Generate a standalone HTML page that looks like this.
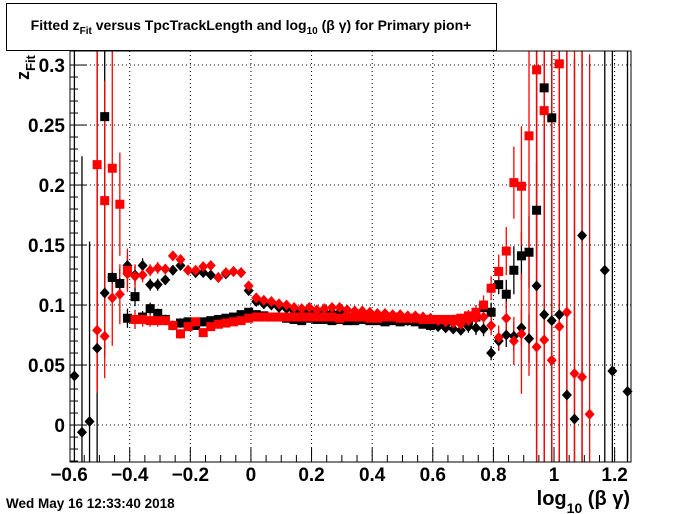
<!DOCTYPE html>
<html><head><meta charset="utf-8"><style>
html,body{margin:0;padding:0;background:#fff;}
svg{display:block;font-family:"Liberation Sans",sans-serif;}
</style></head><body>
<svg id="chart" width="700" height="514" viewBox="0 0 700 514" xmlns="http://www.w3.org/2000/svg">
<rect x="0" y="0" width="700" height="514" fill="#fff"/>
<g>
<rect x="6.5" y="3.5" width="490" height="47" fill="#fff" stroke="#000" stroke-width="1"/>
<text x="251" y="30" text-anchor="middle" font-size="14" font-weight="bold">Fitted  z<tspan font-size="10" dy="4">Fit</tspan><tspan dy="-4">  versus TpcTrackLength and log</tspan><tspan font-size="10" dy="4">10</tspan><tspan dy="-4"> (β γ) for Primary pion+</tspan></text>
</g>
<g id="grid"></g>
<g id="bars"></g>
<g id="marks"></g>
<g id="axes"></g>
<text x="6" y="508" font-size="13.5" font-weight="bold">Wed May 16 12:33:40 2018</text>
<text x="630" y="505" text-anchor="end" font-size="20" font-weight="bold">log<tspan font-size="14" dy="8">10</tspan><tspan dy="-8"> (β γ)</tspan></text>
<text transform="translate(29,80) rotate(-90)" font-size="18" font-weight="bold">z<tspan font-size="13" dy="6">Fit</tspan></text>
</svg>
<script>
// axis ticks
const xTicks = [-0.6,-0.4,-0.2,0,0.2,0.4,0.6,0.8,1,1.2];
const xTickLabels = ["\u22120.6","\u22120.4","\u22120.2","0","0.2","0.4","0.6","0.8","1","1.2"];
const yTicks = [0,0.05,0.1,0.15,0.2,0.25,0.3];
const yTickLabels = ["0","0.05","0.1","0.15","0.2","0.25","0.3"];
// bin index k -> log10(beta gamma) = -0.5825 + 0.025*k
const binStart = -0.5825, binWidth = 0.025;

// black squares
const bsK = [4,5,6,7,8,9,10,11,12,13,14,15,16,17,18,19,20,21,22,23,24,25,26,27,28,29,30,31,32,33,34,35,36,37,38,39,40,41,42,43,44,45,46,47,48,49,50,51,52,53,54,55,56,57,58,59,60,61,62,63];
const bsY = [0.257,0.123,0.118,0.089,0.107,0.090,0.097,0.093,0.088,0.083,0.085,0.086,0.083,0.086,0.087,0.088,0.089,0.090,0.092,0.094,0.092,0.091,0.090,0.090,0.089,0.088,0.087,0.089,0.088,0.088,0.087,0.088,0.087,0.087,0.088,0.087,0.087,0.086,0.087,0.086,0.087,0.086,0.084,0.083,0.085,0.086,0.087,0.088,0.087,0.090,0.098,0.094,0.117,0.109,0.129,0.141,0.144,0.179,0.281,0.256,0.248];
const bsE = [0.2,0.012,0.012,0.008,0.008,0.005,0.005,0.004,0.004,0.004,0.004,0.003,0.003,0.003,0.003,0.003,0.003,0.003,0.003,0.003,0.003,0.003,0.003,0.003,0.003,0.003,0.003,0.003,0.003,0.003,0.003,0.003,0.003,0.003,0.003,0.003,0.003,0.003,0.003,0.003,0.003,0.003,0.003,0.003,0.003,0.003,0.003,0.004,0.004,0.005,0.006,0.008,0.008,0.012,0.02,0.02,0.03,0.04,0.2,0.2,0.2];
// black diamonds
const bdK = [0,1,2,3,4,5,6,7,8,9,10,11,12,13,14,15,16,17,18,19,20,21,22,23,24,25,26,27,28,29,30,31,32,33,34,35,36,37,38,39,40,41,42,43,44,45,46,47,48,49,50,51,52,53,54,55,56,57,58,59,60,61,62,63,64,65,66,67,70,71,73];
const bdY = [0.041,-0.006,0.003,0.064,0.110,0.123,0.118,0.133,0.125,0.133,0.117,0.117,0.121,0.129,0.133,0.129,0.127,0.127,0.125,0.123,0.126,0.128,0.127,0.112,0.103,0.101,0.100,0.098,0.097,0.095,0.094,0.095,0.093,0.094,0.094,0.094,0.092,0.091,0.091,0.090,0.089,0.089,0.088,0.088,0.087,0.087,0.085,0.083,0.082,0.081,0.080,0.079,0.082,0.081,0.080,0.060,0.070,0.075,0.074,0.081,0.072,0.116,0.092,0.087,0.092,0.025,0.005,0.158,0.129,0.045,0.028];
const bdE = [0.3,0.23,0.15,0.3,0.02,0.012,0.012,0.008,0.008,0.006,0.005,0.005,0.004,0.004,0.004,0.004,0.003,0.003,0.003,0.003,0.003,0.003,0.003,0.003,0.003,0.003,0.003,0.003,0.003,0.003,0.003,0.003,0.003,0.003,0.003,0.003,0.003,0.003,0.003,0.003,0.003,0.003,0.003,0.003,0.003,0.003,0.003,0.003,0.003,0.003,0.003,0.004,0.005,0.006,0.006,0.006,0.008,0.01,0.012,0.015,0.02,0.3,0.3,0.3,0.3,0.3,0.3,0.3,0.3,0.3,0.3];
// red squares
const rsK = [3,4,5,6,7,8,9,10,11,12,13,14,15,16,17,18,19,20,21,22,23,24,25,26,27,28,29,30,31,32,33,34,35,36,37,38,39,40,41,42,43,44,45,46,47,48,49,50,51,52,53,54,55,56,57,58,59,60,61,62,64];
const rsY = [0.217,0.187,0.214,0.184,0.129,0.088,0.088,0.087,0.087,0.087,0.083,0.076,0.082,0.086,0.077,0.082,0.084,0.085,0.086,0.087,0.089,0.090,0.090,0.090,0.090,0.090,0.090,0.090,0.090,0.090,0.090,0.090,0.089,0.090,0.090,0.090,0.089,0.089,0.090,0.090,0.089,0.089,0.089,0.088,0.088,0.088,0.088,0.088,0.089,0.091,0.094,0.100,0.114,0.128,0.145,0.202,0.199,0.241,0.296,0.262,0.301];
const rsE = [0.19,0.10,0.1,0.043,0.018,0.008,0.006,0.005,0.005,0.004,0.004,0.004,0.003,0.003,0.003,0.003,0.003,0.003,0.003,0.003,0.003,0.003,0.003,0.003,0.003,0.003,0.003,0.003,0.003,0.003,0.003,0.003,0.003,0.003,0.003,0.003,0.003,0.003,0.003,0.003,0.003,0.003,0.003,0.003,0.003,0.003,0.003,0.004,0.004,0.005,0.006,0.008,0.01,0.014,0.02,0.03,0.05,0.2,0.3,0.3,0.3];
// red diamonds
const rdK = [3,4,5,6,7,8,9,10,11,12,13,14,15,16,17,18,19,20,21,22,23,24,25,26,27,28,29,30,31,32,33,34,35,36,37,38,39,40,41,42,43,44,45,46,47,48,49,50,51,52,53,54,55,56,57,58,59,61,62,63,64,65,66,67,68];
const rdY = [0.079,0.074,0.106,0.109,0.126,0.124,0.125,0.129,0.131,0.130,0.141,0.138,0.129,0.129,0.132,0.133,0.123,0.127,0.128,0.127,0.116,0.106,0.104,0.103,0.101,0.100,0.098,0.097,0.098,0.096,0.097,0.098,0.098,0.096,0.095,0.095,0.094,0.093,0.093,0.092,0.092,0.091,0.091,0.090,0.089,0.087,0.086,0.085,0.084,0.087,0.089,0.090,0.083,0.073,0.089,0.070,0.076,0.065,0.071,0.054,0.082,0.094,0.043,0.040,0.009];
const rdE = [0.05,0.035,0.04,0.025,0.012,0.01,0.006,0.005,0.005,0.004,0.004,0.004,0.003,0.003,0.003,0.003,0.003,0.003,0.003,0.003,0.003,0.003,0.003,0.003,0.003,0.003,0.003,0.003,0.003,0.003,0.003,0.003,0.003,0.003,0.003,0.003,0.003,0.003,0.003,0.003,0.003,0.003,0.003,0.003,0.003,0.003,0.003,0.003,0.003,0.004,0.005,0.006,0.008,0.01,0.014,0.02,0.05,0.3,0.3,0.3,0.3,0.3,0.3,0.3,0.3];

const PL=70, PR=631, PT=51, PB=462;
const xMin=-0.597, xMax=1.254, yMin=-0.0308, yMax=0.3117;
const NS="http://www.w3.org/2000/svg";
function X(v){return PL+(v-xMin)/(xMax-xMin)*(PR-PL);}
function Y(v){return PB-(v-yMin)/(yMax-yMin)*(PB-PT);}
function kx(k){return binStart+binWidth*k;}
function mk(tag,attrs,parent){const e=document.createElementNS(NS,tag);for(const a in attrs)e.setAttribute(a,attrs[a]);parent.appendChild(e);return e;}
const grid=document.getElementById('grid'), axes=document.getElementById('axes'), bars=document.getElementById('bars'), marks=document.getElementById('marks');
function clampY(v){return Math.max(PT,Math.min(PB,v));}

// grid
xTicks.forEach(t=>{ if(X(t)>PL+1&&X(t)<PR-1){const l=mk('line',{x1:X(t),x2:X(t),y1:PT,y2:PB,stroke:'#000','stroke-width':1,'stroke-dasharray':'1,3'},grid);

}});
yTicks.forEach(t=>{const l=mk('line',{x1:PL,x2:PR,y1:Y(t),y2:Y(t),stroke:'#000','stroke-width':1,'stroke-dasharray':'1,3'},grid);

});

// series
function drawSeries(K,Yv,E,color,shape,name){
  K.forEach((k,i)=>{
    const x=X(kx(k));
    const b=mk('line',{x1:x,x2:x,y1:clampY(Y(Yv[i]+E[i])),y2:clampY(Y(Yv[i]-E[i])),stroke:color,'stroke-width':1.3},bars);
    
    
  });
  K.forEach((k,i)=>{
    const x=X(kx(k));
    const y=Y(Yv[i]);
    if(y<PT-2||y>PB+2)return;
    let m;
    if(shape==='square'){m=mk('rect',{x:x-4.5,y:y-4.5,width:9,height:9,fill:color},marks);}
    else{m=mk('polygon',{points:`${x},${y-5.5} ${x+5},${y} ${x},${y+5.5} ${x-5},${y}`,fill:color},marks);}
    
    
  });
}
drawSeries(bsK,bsY,bsE,'#000','square','black-square');
drawSeries(bdK,bdY,bdE,'#000','diamond','black-diamond');
drawSeries(rsK,rsY,rsE,'#f00','square','red-square');
drawSeries(rdK,rdY,rdE,'#f00','diamond','red-diamond');

// frame
const fr=mk('rect',{x:PL,y:PT,width:PR-PL,height:PB-PT,fill:'none',stroke:'#000','stroke-width':1},axes);


// x axis ticks
for(let v=-0.55;v<=1.25;v+=0.05){const vv=Math.round(v*100)/100;const major=Math.abs(vv*5-Math.round(vv*5))<1e-6;
  const t=mk('line',{x1:X(vv),x2:X(vv),y1:PB,y2:PB-(major?14:7),stroke:'#000','stroke-width':1},axes);
  
  }
xTicks.forEach((t,i)=>{const tx=mk('text',{x:X(t),y:481,'text-anchor':'middle','font-size':19,'font-weight':'bold'},axes);tx.textContent=xTickLabels[i];
  
  });
// y axis ticks
for(let v=-0.03;v<=0.31;v+=0.01){const vv=Math.round(v*100)/100;const major=Math.abs(vv*20-Math.round(vv*20))<1e-6;
  const t=mk('line',{x1:PL,x2:PL+(major?16:8),y1:Y(vv),y2:Y(vv),stroke:'#000','stroke-width':1},axes);
  
  }
yTicks.forEach((t,i)=>{const tx=mk('text',{x:65,y:Y(t)+7,'text-anchor':'end','font-size':19,'font-weight':'bold'},axes);tx.textContent=yTickLabels[i];
  
  });
</script>
</body></html>
